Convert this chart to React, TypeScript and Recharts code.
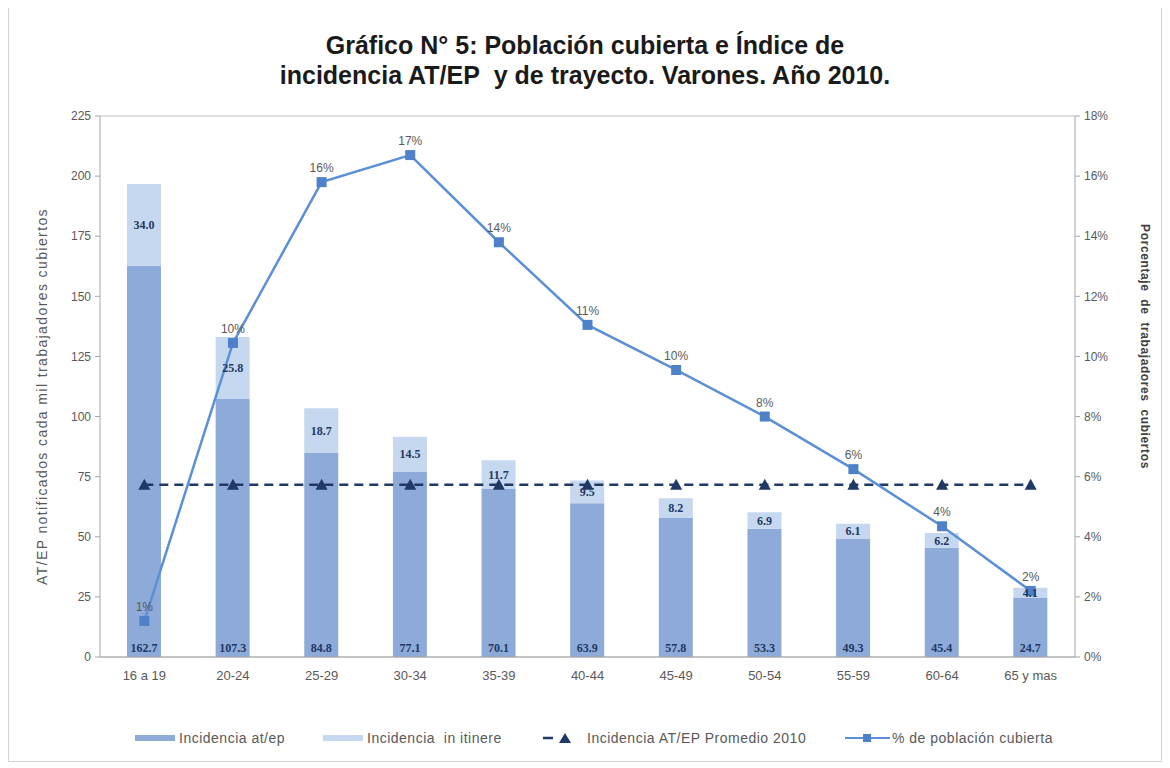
import React from "react";
import {
  ComposedChart,
  Bar,
  Line,
  XAxis,
  YAxis,
  CartesianGrid,
  Legend,
  LabelList,
} from "recharts";

const categories = ["16 a 19", "20-24", "25-29", "30-34", "35-39", "40-44", "45-49", "50-54", "55-59", "60-64", "65 y mas"];
const incidenciaAtep = [162.7, 107.3, 84.8, 77.1, 70.1, 63.9, 57.8, 53.3, 49.3, 45.4, 24.7];
const incidenciaItinere = [34.0, 25.8, 18.7, 14.5, 11.7, 9.5, 8.2, 6.9, 6.1, 6.2, 4.1];
const promedio2010 = [71.6, 71.6, 71.6, 71.6, 71.6, 71.6, 71.6, 71.6, 71.6, 71.6, 71.6];
const poblacionCubierta = [1.2, 10.45, 15.8, 16.7, 13.8, 11.05, 9.55, 8.0, 6.25, 4.35, 2.2];
const leftTicks = [0, 25, 50, 75, 100, 125, 150, 175, 200, 225];
const rightTicks = [0, 2, 4, 6, 8, 10, 12, 14, 16, 18];

const data = categories.map((c, i) => ({
  cat: c,
  atep: incidenciaAtep[i],
  itinere: incidenciaItinere[i],
  avg: promedio2010[i],
  pct: poblacionCubierta[i],
}));

const C_ATEP = "#8EAAD8";
const C_ITIN = "#C6D8EF";
const C_LINE = "#5B8FD6";
const C_MARK = "#4F81C9";
const C_AVG = "#1F3864";
const FONT = "'Liberation Sans', Arial, sans-serif";

const Triangle = (props: any) => {
  const { cx, cy } = props;
  if (cx == null || cy == null) return null;
  return <polygon points={`${cx},${cy - 6} ${cx - 6},${cy + 5} ${cx + 6},${cy + 5}`} fill={C_AVG} />;
};

const Square = (props: any) => {
  const { cx, cy } = props;
  if (cx == null || cy == null) return null;
  return <rect x={cx - 5} y={cy - 5} width={10} height={10} fill={C_MARK} />;
};

const LeftAxisLabel = (props: any) => {
  const vb = props.viewBox || {};
  const x = (vb.x ?? 0) - 2;
  const y = (vb.y ?? 0) + (vb.height ?? 0) / 2 + 10;
  return (
    <text
      x={x}
      y={y}
      transform={`rotate(-90 ${x} ${y})`}
      textAnchor="middle"
      dominantBaseline="central"
      fill="#595959"
      fontSize={14}
      letterSpacing={1.4}
      fontFamily={FONT}
    >
      AT/EP notificados  cada mil trabajadores cubiertos
    </text>
  );
};

const RightAxisLabel = (props: any) => {
  const vb = props.viewBox || {};
  const x = (vb.x ?? 0) + (vb.width ?? 0) + 20;
  const y = (vb.y ?? 0) + (vb.height ?? 0) / 2 - 40;
  return (
    <text
      x={x}
      y={y}
      transform={`rotate(90 ${x} ${y})`}
      textAnchor="middle"
      dominantBaseline="central"
      fill="#404040"
      fontSize={12}
      fontWeight="bold"
      letterSpacing={0.6}
      fontFamily={FONT}
      style={{ whiteSpace: "pre" }}
    >
      {"Porcentaje  de  trabajadores  cubiertos"}
    </text>
  );
};

const itemStyle: React.CSSProperties = {
  position: "absolute",
  top: 0,
  height: 40,
  display: "flex",
  alignItems: "center",
  whiteSpace: "pre",
};

const LegendContent = () => (
  <div
    style={{
      position: "relative",
      width: 1152,
      height: 40,
      fontFamily: FONT,
      fontSize: 14,
      letterSpacing: 0.5,
      color: "#595959",
    }}
  >
    <span style={{ ...itemStyle, left: 126 }}>
      <span style={{ display: "inline-block", width: 40, height: 6, background: C_ATEP, marginRight: 4 }} />
      Incidencia at/ep
    </span>
    <span style={{ ...itemStyle, left: 314 }}>
      <span style={{ display: "inline-block", width: 40, height: 6, background: C_ITIN, marginRight: 4 }} />
      {"Incidencia  in itinere"}
    </span>
    <span style={{ ...itemStyle, left: 534 }}>
      <svg width={30} height={14} style={{ marginRight: 14 }}>
        <line x1={0} y1={7} x2={10} y2={7} stroke={C_AVG} strokeWidth={2.5} />
        <polygon points="22,2 16,12 28,12" fill={C_AVG} />
      </svg>
      Incidencia AT/EP Promedio 2010
    </span>
    <span style={{ ...itemStyle, left: 836 }}>
      <svg width={45} height={14} style={{ marginRight: 2 }}>
        <line x1={0} y1={7} x2={45} y2={7} stroke={C_LINE} strokeWidth={2} />
        <rect x={18} y={3} width={8} height={8} fill={C_MARK} />
      </svg>
      % de población cubierta
    </span>
  </div>
);

export default function App() {
  return (
    <div
      style={{
        position: "relative",
        marginTop: -4,
        width: 1152,
        height: 756,
        border: "1px solid #d4d4d4",
        background: "#fff",
      }}
    >
      <div
        style={{
          position: "absolute",
          top: 25,
          left: 0,
          width: "100%",
          textAlign: "center",
          fontFamily: FONT,
          fontWeight: "bold",
          fontSize: 25,
          lineHeight: "30px",
          color: "#1a1a1a",
        }}
      >
        Gráfico N° 5: Población cubierta e Índice de
        <br />
        incidencia AT/EP&nbsp;&nbsp;y de trayecto. Varones. Año 2010.
      </div>
      <ComposedChart
        width={1152}
        height={756}
        data={data}
        margin={{ top: 111, right: 36, left: 35, bottom: 34 }}
      >
        <CartesianGrid vertical={false} stroke="#BFBFBF" />
        <XAxis
          dataKey="cat"
          tick={{ fill: "#595959", fontSize: 13, fontFamily: FONT }}
          tickLine={false}
          axisLine={{ stroke: "#A6A6A6" }}
          height={30}
          tickMargin={8}
        />
        <YAxis
          yAxisId="left"
          domain={[0, 225]}
          ticks={leftTicks}
          width={56}
          tick={{ fill: "#595959", fontSize: 12, fontFamily: FONT }}
          axisLine={{ stroke: "#A6A6A6" }}
          tickLine={{ stroke: "#A6A6A6" }}
          tickSize={5}
          tickMargin={4}
          label={<LeftAxisLabel />}
        />
        <YAxis
          yAxisId="right"
          orientation="right"
          domain={[0, 18]}
          ticks={rightTicks}
          tickFormatter={(v: number) => `${v}%`}
          width={50}
          tick={{ fill: "#595959", fontSize: 12, fontFamily: FONT }}
          axisLine={{ stroke: "#A6A6A6" }}
          tickLine={{ stroke: "#A6A6A6" }}
          tickSize={5}
          tickMargin={4}
          label={<RightAxisLabel />}
        />
        <Legend
          verticalAlign="bottom"
          height={40}
          wrapperStyle={{ bottom: 3, left: 0, width: 1152 }}
          content={<LegendContent />}
        />
        <Bar yAxisId="left" dataKey="atep" stackId="s" fill={C_ATEP} barSize={34} isAnimationActive={false}>
          <LabelList
            dataKey="atep"
            position="insideBottom"
            formatter={(v: any) => Number(v).toFixed(1)}
            style={{ fill: C_AVG, fontSize: 12, fontWeight: "bold", fontFamily: "'Liberation Serif', serif" }}
          />
        </Bar>
        <Bar yAxisId="left" dataKey="itinere" stackId="s" fill={C_ITIN} barSize={34} isAnimationActive={false}>
          <LabelList
            dataKey="itinere"
            position="center"
            formatter={(v: any) => Number(v).toFixed(1)}
            style={{ fill: C_AVG, fontSize: 12, fontWeight: "bold", fontFamily: "'Liberation Serif', serif" }}
          />
        </Bar>
        <Line
          yAxisId="left"
          dataKey="avg"
          stroke={C_AVG}
          strokeWidth={2.5}
          strokeDasharray="9 6"
          dot={<Triangle />}
          activeDot={false}
          isAnimationActive={false}
        />
        <Line
          yAxisId="right"
          dataKey="pct"
          stroke={C_LINE}
          strokeWidth={2.5}
          dot={<Square />}
          activeDot={false}
          isAnimationActive={false}
        >
          <LabelList
            dataKey="pct"
            position="top"
            offset={10}
            formatter={(v: any) => `${Math.round(Number(v))}%`}
            style={{ fill: "#595959", fontSize: 12, fontFamily: FONT }}
          />
        </Line>
      </ComposedChart>
    </div>
  );
}
